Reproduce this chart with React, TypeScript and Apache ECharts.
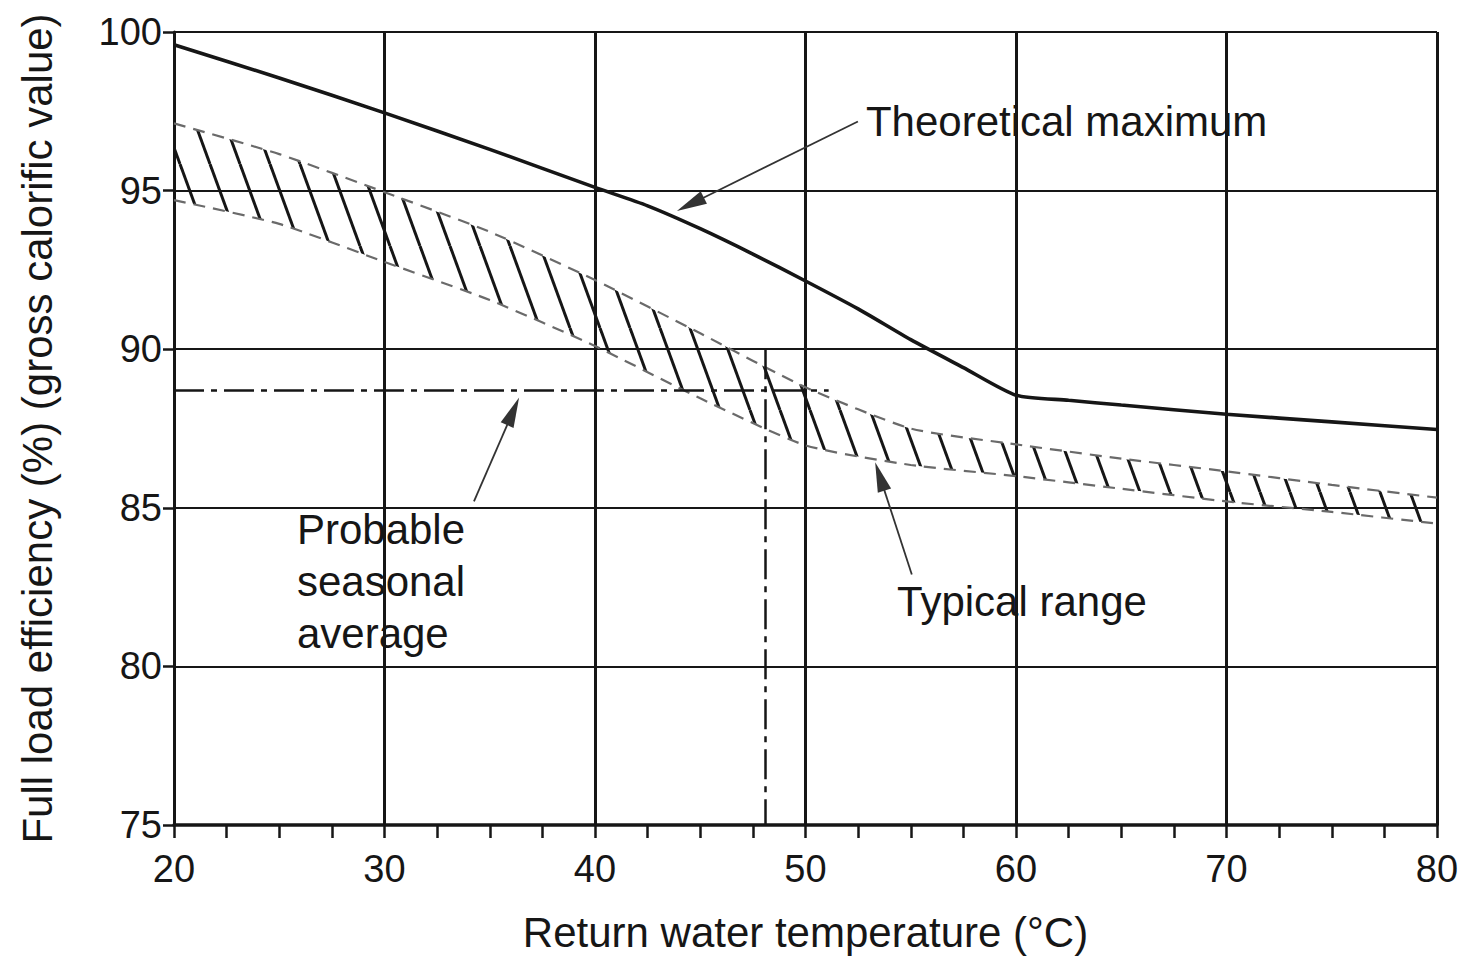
import React, { useEffect, useRef } from "react";
import * as echarts from "echarts";

// ---- data ----
const theoX = [20, 25, 30, 35, 40, 42.5, 45, 47.5, 50, 52.5, 55, 57.5, 60, 62.5, 65, 70, 75, 80];
const theoY = [99.6, 98.55, 97.45, 96.3, 95.1, 94.52, 93.8, 93.0, 92.15, 91.27, 90.3, 89.42, 88.55, 88.39, 88.24, 87.95, 87.71, 87.47];

const bandX = [20, 25, 30, 35, 40, 45, 50, 55, 60, 65, 70, 75, 80];
const bandUpper = [97.12, 96.15, 94.95, 93.7, 92.18, 90.5, 88.8, 87.5, 87.0, 86.55, 86.15, 85.72, 85.32];
const bandLower = [94.7, 93.95, 92.75, 91.55, 90.1, 88.45, 86.97, 86.35, 86.0, 85.6, 85.2, 84.87, 84.5];

const seasonalAvg = 88.7;
const seasonalStartX = 20;
const seasonalEndX = 51.1;
const seasonalTemp = 48.1;
const seasonalTopY = 90;
const seasonalBottomY = 75;

const xTickValues = { min: 20, max: 80, interval: 10 };
const yTickValues = { min: 75, max: 100, interval: 5 };

// annotation arrows: [tailX, tailY, headCentreX, headCentreY]
const arrowTheo = [52.49, 97.18, 44.53, 94.57];
const arrowSeasonal = [34.25, 85.2, 36.11, 88.04];
const arrowTypical = [55.05, 82.9, 53.53, 85.99];

const notes = [
  { text: "Theoretical maximum", x: 52.87, y: 97.18 },
  { text: "Probable\nseasonal\naverage", x: 25.84, y: 82.68 },
  { text: "Typical range", x: 54.35, y: 82.05 },
];

const FONT = "'Liberation Sans', Arial, Helvetica, sans-serif";
const INK = "#161616";
const SMOOTH = 0.2;

function makeHatch(): HTMLCanvasElement {
  const W = 30;
  const H = 82;
  const c = document.createElement("canvas");
  c.width = W;
  c.height = H;
  const ctx = c.getContext("2d")!;
  ctx.strokeStyle = INK;
  ctx.lineWidth = 3;
  for (const off of [-W, 0, W]) {
    ctx.beginPath();
    ctx.moveTo(off, 0);
    ctx.lineTo(off + W, H);
    ctx.stroke();
  }
  return c;
}

// bezier segments through points (same tangent rule as ECharts smooth line)
function curveThrough(pts: number[][]): string {
  const n = pts.length;
  const k = SMOOTH * 0.5;
  let d = "";
  for (let i = 0; i < n - 1; i++) {
    const p0 = pts[Math.max(0, i - 1)];
    const p1 = pts[i];
    const p2 = pts[i + 1];
    const p3 = pts[Math.min(n - 1, i + 2)];
    const c1x = p1[0] + (p2[0] - p0[0]) * k;
    const c1y = p1[1] + (p2[1] - p0[1]) * k;
    const c2x = p2[0] - (p3[0] - p1[0]) * k;
    const c2y = p2[1] - (p3[1] - p1[1]) * k;
    d += ` C${c1x},${c1y} ${c2x},${c2y} ${p2[0]},${p2[1]}`;
  }
  return d;
}

export default function App() {
  const ref = useRef<HTMLDivElement>(null);

  useEffect(() => {
    const el = ref.current!;
    const chart = echarts.init(el, null, { renderer: "svg" });
    const hatch = makeHatch();

    const arrowLine = (a: number[]) => [
      { coord: [a[0], a[1]], symbol: "none" },
      { coord: [a[2], a[3]], symbol: "triangle", symbolSize: [14, 30] },
    ];

    const dashedEdge = { color: "#6a6a6a", width: 2.2, type: [12, 8] };
    const dashDot = { color: INK, width: 2.5, type: [30, 7, 6, 7] };

    const option: any = {
      animation: false,
      backgroundColor: "#ffffff",
      grid: { left: 174, width: 1263, top: 32, height: 798, containLabel: false },
      xAxis: {
        type: "value",
        min: xTickValues.min,
        max: xTickValues.max,
        interval: xTickValues.interval,
        name: "Return water temperature (°C)",
        nameLocation: "middle",
        nameGap: 86,
        nameTextStyle: { fontSize: 42, fontFamily: FONT, color: INK },
        axisLine: { show: true, onZero: false, lineStyle: { color: INK, width: 3.5 } },
        axisTick: { show: true, inside: false, length: 13, lineStyle: { color: INK, width: 2.5 } },
        minorTick: { show: true, splitNumber: 4, length: 13, lineStyle: { color: INK, width: 2.5 } },
        splitLine: { show: true, lineStyle: { color: INK, width: 3 } },
        minorSplitLine: { show: false },
        axisLabel: { fontSize: 38, fontFamily: FONT, color: INK, margin: 25 },
      },
      yAxis: {
        type: "value",
        min: yTickValues.min,
        max: yTickValues.max,
        interval: yTickValues.interval,
        name: "Full load efficiency (%) (gross calorific value)",
        nameLocation: "middle",
        nameGap: 116,
        nameTextStyle: { fontSize: 42, fontFamily: FONT, color: INK },
        axisLine: { show: true, onZero: false, lineStyle: { color: INK, width: 3 } },
        axisTick: { show: true, inside: false, length: 11, lineStyle: { color: INK, width: 2.5 } },
        splitLine: { show: true, lineStyle: { color: INK, width: 2.2 } },
        axisLabel: { fontSize: 38, fontFamily: FONT, color: INK, margin: 12 },
      },
      series: [
        {
          name: "Typical range",
          type: "custom",
          coordinateSystem: "cartesian2d",
          silent: true,
          clip: true,
          z: 2,
          data: [[bandX[0], bandUpper[0]]],
          encode: { x: 0, y: 1 },
          renderItem: (_params: any, api: any) => {
            const up = bandX.map((x, i) => api.coord([x, bandUpper[i]]));
            const lo = bandX.map((x, i) => api.coord([x, bandLower[i]])).reverse();
            const d =
              `M${up[0][0]},${up[0][1]}` +
              curveThrough(up) +
              ` L${lo[0][0]},${lo[0][1]}` +
              curveThrough(lo) +
              " Z";
            return {
              type: "path",
              shape: { pathData: d },
              style: { fill: { image: hatch, repeat: "repeat" }, stroke: null },
            };
          },
        },
        {
          name: "Typical range upper",
          type: "line",
          symbol: "none",
          smooth: SMOOTH,
          silent: true,
          data: bandX.map((x, i) => [x, bandUpper[i]]),
          lineStyle: dashedEdge,
          z: 3,
        },
        {
          name: "Typical range lower",
          type: "line",
          symbol: "none",
          smooth: SMOOTH,
          silent: true,
          data: bandX.map((x, i) => [x, bandLower[i]]),
          lineStyle: dashedEdge,
          z: 3,
        },
        {
          name: "Theoretical maximum",
          type: "line",
          symbol: "none",
          smooth: 0.22,
          silent: true,
          data: theoX.map((x, i) => [x, theoY[i]]),
          lineStyle: { color: INK, width: 3.6 },
          z: 5,
          markLine: {
            silent: true,
            animation: false,
            label: { show: false },
            lineStyle: { color: "#333333", width: 1.8, type: "solid" },
            itemStyle: { color: INK },
            emphasis: { disabled: true },
            data: [arrowLine(arrowTheo), arrowLine(arrowSeasonal), arrowLine(arrowTypical)],
          },
        },
        {
          name: "Probable seasonal average",
          type: "line",
          symbol: "none",
          silent: true,
          data: [
            [seasonalStartX, seasonalAvg],
            [seasonalEndX, seasonalAvg],
          ],
          lineStyle: dashDot,
          z: 4,
        },
        {
          name: "Seasonal temperature",
          type: "line",
          symbol: "none",
          silent: true,
          data: [
            [seasonalTemp, seasonalTopY],
            [seasonalTemp, seasonalBottomY],
          ],
          lineStyle: dashDot,
          z: 4,
        },
      ],
    };

    chart.setOption(option);

    const graphic = notes.map((n) => {
      const p = chart.convertToPixel({ xAxisIndex: 0, yAxisIndex: 0 }, [n.x, n.y]) as number[];
      return {
        type: "text",
        x: p[0],
        y: p[1],
        silent: true,
        z: 10,
        style: {
          text: n.text,
          fontSize: 42,
          fontFamily: FONT,
          fill: INK,
          align: "left",
          verticalAlign: "middle",
          textAlign: "left",
          textVerticalAlign: "middle",
          lineHeight: 52,
        },
      };
    });
    chart.setOption({ graphic });

    return () => {
      chart.dispose();
    };
  }, []);

  return (
    <div
      ref={ref}
      style={{ position: "fixed", left: 0, top: 0, width: 1468, height: 958, background: "#fff" }}
    />
  );
}
